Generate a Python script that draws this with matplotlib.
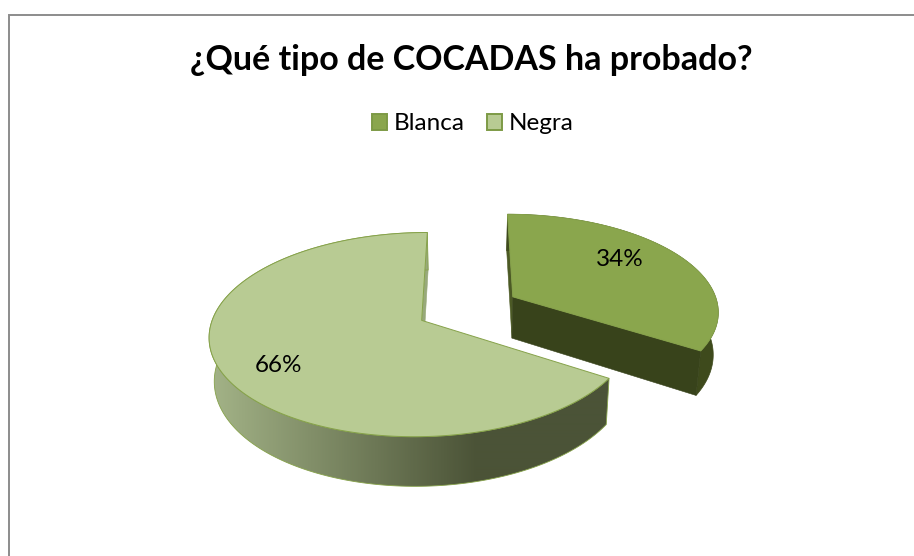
import numpy as np
import matplotlib
matplotlib.use("Agg")
import matplotlib.pyplot as plt
from matplotlib.patches import Patch, Polygon, Rectangle
from matplotlib.colors import LinearSegmentedColormap

title = "¿Qué tipo de COCADAS ha probado?"
categories = ["Blanca", "Negra"]
values = [34, 66]

plt.rcParams['font.family'] = ['Lato', 'DejaVu Sans']

# pseudo 3D pie geometry, in pixels of the picture
R = 206
K = 0.47
P = 0.137
DEPTH = 42
CX = 468
CY = 308.4
EXPLODE = 52
BOTTOM_SHRINK = 0.98

TOP_COLORS = ["#8aa64d", "#b8cb93"]
RIM = "#86a24a"


def project(x, v, bottom=False):
    s = 1 / (1 - P * v / R)
    if bottom:
        return CX + x * s * BOTTOM_SHRINK, CY + K * v * s + DEPTH * s
    return CX + x * s, CY + K * v * s


def outline(cx, cv, a0, a1, bottom=False, n=200):
    # angles clockwise from the top, v grows towards the viewer
    a = np.linspace(a0, a1, n)
    xs = cx + R * np.sin(a)
    vs = cv - R * np.cos(a)
    return np.column_stack(project(xs, vs, bottom))


def side_poly(cx, cv, a0, a1):
    return np.vstack([outline(cx, cv, a0, a1), outline(cx, cv, a0, a1, bottom=True)[::-1]])


def flat_face(ax, cx, cv, a, color, z):
    end_x = cx + R * np.sin(a)
    end_v = cv - R * np.cos(a)
    pts = [project(cx, cv), project(end_x, end_v),
           project(end_x, end_v, True), project(cx, cv, True)]
    ax.add_patch(Polygon(pts, closed=True, facecolor=color, edgecolor=color, lw=0.4, zorder=z))


def top_face(ax, cx, cv, a0, a1, color, z):
    pts = np.vstack([[project(cx, cv)], outline(cx, cv, a0, a1)])
    ax.add_patch(Polygon(pts, closed=True, facecolor=color, edgecolor=RIM, lw=0.7, zorder=z))


fig = plt.figure(figsize=(9.14, 5.56), dpi=100)
ax = fig.add_axes([0, 0, 1, 1])

# chart frame runs off the right and bottom of the picture
ax.add_patch(Rectangle((8.8, 14.6), 1000, 1000, facecolor="white", edgecolor="#8c8c8c", lw=1.4, zorder=0))

fractions = np.array(values) / sum(values)
split = 2 * np.pi * fractions[0]
mid = split / 2
dx = EXPLODE * np.sin(mid)
dv = EXPLODE * np.cos(mid)

# Negra, pushed away from the exploded slice
flat_face(ax, -dx, dv, 2 * np.pi, "#98a97a", 2)
shade = LinearSegmentedColormap.from_list("side", ["#a4b488", "#4b5337"])
grad = np.clip((np.arange(190, 640) - 208) / (477 - 208), 0, 1).reshape(1, -1)
im = ax.imshow(grad, cmap=shade, extent=[190, 640, 500, 300], aspect="auto", zorder=3, interpolation="bilinear")
side = Polygon(side_poly(-dx, dv, split, 2 * np.pi), closed=True, facecolor="none", edgecolor=RIM, lw=0.6, zorder=3.2)
ax.add_patch(side)
im.set_clip_path(side)
top_face(ax, -dx, dv, split, 2 * np.pi, TOP_COLORS[1], 4)

# Blanca
flat_face(ax, dx, -dv, 0, "#4c5a25", 2)
ax.add_patch(Polygon(side_poly(dx, -dv, 0, split), closed=True, facecolor="#3e4a1c", edgecolor="#3e4a1c", lw=0.5, zorder=3))
flat_face(ax, dx, -dv, split, "#38431b", 3.5)
top_face(ax, dx, -dv, 0, split, TOP_COLORS[0], 4)

ax.text(620, 259, f"{values[0]}%", ha="center", va="center", fontsize=17.5, color="black", zorder=5)
ax.text(278, 366, f"{values[1]}%", ha="center", va="center", fontsize=17.5, color="black", zorder=5)

ax.text(471, 60, title, ha="center", va="center", fontsize=24.5, fontweight="bold", color="black")

handles = [Patch(facecolor=c, edgecolor="#7d9a45", lw=1.4) for c in TOP_COLORS]
ax.legend(handles, categories, loc="center", bbox_to_anchor=(473 / 914, 1 - 124 / 556),
          ncol=2, frameon=False, fontsize=17.5, handlelength=0.6, handleheight=0.6,
          handletextpad=0.3, columnspacing=0.9)

ax.set_xlim(0, 914)
ax.set_ylim(556, 0)
ax.axis("off")

fig.savefig("out.png", dpi=100)
plt.close(fig)
